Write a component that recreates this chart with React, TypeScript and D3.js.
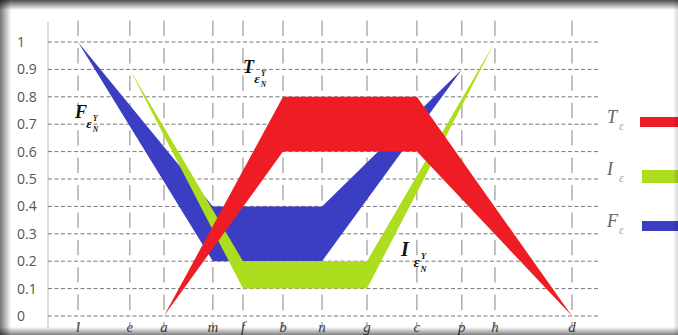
import React from 'react';
import * as d3 from 'd3';

const W = 678;
const H = 335;

// axis letters and where they sit along the axis (0..100)
const xLabels = ['l', 'e', 'a', 'm', 'f', 'b', 'n', 'g', 'c', 'p', 'h', 'd'];
const xPos = [0, 10.5, 17.4, 27.3, 33.4, 41.5, 49.4, 58.5, 68.6, 77.7, 84.4, 100];
const yTicks = [0, 0.1, 0.2, 0.3, 0.4, 0.5, 0.6, 0.7, 0.8, 0.9, 1];

// truth
const tKeys = ['a', 'b', 'c', 'd'];
const tUpper = [0, 0.8, 0.8, 0];
const tLower = [0, 0.6, 0.6, 0];
// indeterminacy
const iKeys = ['e', 'f', 'g', 'h'];
const iUpper = [0.9, 0.2, 0.2, 1];
const iLower = [0.9, 0.1, 0.1, 1];
// falsity
const fKeys = ['l', 'm', 'n', 'p'];
const fUpper = [1, 0.4, 0.4, 0.9];
const fLower = [1, 0.2, 0.2, 0.9];

const legendNames = ['T', 'I', 'F'];
const colors = { T: '#ee1d25', I: '#acdd1e', F: '#3b3ec2' };

const x = d3.scaleLinear().domain([0, 100]).range([78, 572]);
const y = d3.scaleLinear().domain([0, 1]).range([316, 42]);
const posOf = (k: string) => xPos[xLabels.indexOf(k)];

type Pt = { k: string; lo: number; hi: number };
const band = d3.area<Pt>()
  .x(d => x(posOf(d.k)))
  .y0(d => y(d.lo))
  .y1(d => y(d.hi));

const mk = (keys: string[], lo: number[], hi: number[]) =>
  keys.map((k, i) => ({ k, lo: lo[i], hi: hi[i] }));

const serif = '"Liberation Serif", "DejaVu Serif", serif';
const sans = '"Open Sans", "DejaVu Sans", sans-serif';

// letter with the ε_N^Y subscript block
function Label({ x0, y0, main, size }: { x0: number; y0: number; main: string; size: number }) {
  const w = size * 0.62;
  return (
    <g fontFamily={serif} fontWeight="bold" fontStyle="italic" fill="#111">
      <text x={x0} y={y0} fontSize={size}>{main}</text>
      <text x={x0 + w} y={y0 + size * 0.55} fontSize={size * 0.75}>ε</text>
      <text x={x0 + w + size * 0.38} y={y0 + size * 0.15} fontSize={size * 0.42}>Y</text>
      <text x={x0 + w + size * 0.36} y={y0 + size * 0.78} fontSize={size * 0.42}>N</text>
    </g>
  );
}

export default function App() {
  const spacing = y(0) - y(0.1);
  return (
    <svg width={W} height={H} style={{ position: 'absolute', left: 0, top: 0, background: '#fff' }}>
      <defs>
        <linearGradient id="sTop" x1="0" y1="0" x2="0" y2="1">
          <stop offset="0" stopColor="#000" stopOpacity={0.7} />
          <stop offset="1" stopColor="#000" stopOpacity={0} />
        </linearGradient>
        <linearGradient id="sBot" x1="0" y1="1" x2="0" y2="0">
          <stop offset="0" stopColor="#000" stopOpacity={0.5} />
          <stop offset="1" stopColor="#000" stopOpacity={0} />
        </linearGradient>
        <linearGradient id="sLeft" x1="0" y1="0" x2="1" y2="0">
          <stop offset="0" stopColor="#000" stopOpacity={0.55} />
          <stop offset="1" stopColor="#000" stopOpacity={0} />
        </linearGradient>
        <linearGradient id="sRight" x1="1" y1="0" x2="0" y2="0">
          <stop offset="0" stopColor="#000" stopOpacity={0.15} />
          <stop offset="1" stopColor="#000" stopOpacity={0} />
        </linearGradient>
      </defs>

      {/* axis line */}
      <line x1={48} x2={48} y1={22} y2={328} stroke="#bbb" strokeWidth={1} />

      {/* horizontal grid */}
      {yTicks.map(t => (
        <line key={'h' + t} x1={48} x2={600} y1={y(t)} y2={y(t)}
          stroke="#777" strokeWidth={1} strokeDasharray="4,2.5" />
      ))}

      {/* vertical grid */}
      {xLabels.map((l, i) => (
        <line key={'v' + l} x1={x(xPos[i])} x2={x(xPos[i])} y1={13} y2={328}
          stroke="#999" strokeWidth={1.2}
          strokeDasharray={`${spacing - 12},12`} strokeDashoffset={-6 - (316 - 13) % spacing + spacing} />
      ))}

      {/* y tick labels */}
      {yTicks.map(t => (
        <text key={'yl' + t} x={17} y={y(t) + 5} fontFamily={sans} fontSize={14} fill="#555">
          {t === 0 || t === 1 ? String(t) : d3.format('.1f')(t)}
        </text>
      ))}

      {/* bands */}
      <path d={band(mk(fKeys, fLower, fUpper)) || ''} fill={colors.F} />
      <path d={band(mk(iKeys, iLower, iUpper)) || ''} fill={colors.I} />
      <path d={band(mk(tKeys, tLower, tUpper)) || ''} fill={colors.T} />

      {/* annotations */}
      <Label x0={75} y0={118} main="F" size={18} />
      <Label x0={243} y0={73} main="T" size={18} />
      <Label x0={401} y0={256} main="I" size={20} />

      {/* legend */}
      {legendNames.map((n, i) => (
        <g key={'lg' + n} transform={`translate(0,${i * 52})`}>
          <text x={607} y={123} fontFamily={serif} fontStyle="italic" fontSize={18} fill="#666">{n}</text>
          <text x={619} y={130} fontFamily={serif} fontStyle="italic" fontSize={12} fill="#9ab">ε</text>
          <rect x={i === 0 ? 640 : 642} y={117 + (i === 1 ? 1 : 0)} width={40} height={i === 1 ? 13 : 10}
            fill={colors[n as 'T' | 'I' | 'F']} />
        </g>
      ))}

      {/* x labels */}
      {xLabels.map((l, i) => (
        <text key={'xl' + l} x={x(xPos[i])} y={332} textAnchor="middle"
          fontFamily={serif} fontStyle="italic" fontSize={15} fill="#444">{l}</text>
      ))}

      {/* frame shadow */}
      <rect x={0} y={0} width={W} height={10} fill="url(#sTop)" />
      <rect x={0} y={H - 8} width={W} height={8} fill="url(#sBot)" />
      <rect x={0} y={0} width={11} height={H} fill="url(#sLeft)" />
      <rect x={W - 5} y={0} width={5} height={H} fill="url(#sRight)" />
    </svg>
  );
}
